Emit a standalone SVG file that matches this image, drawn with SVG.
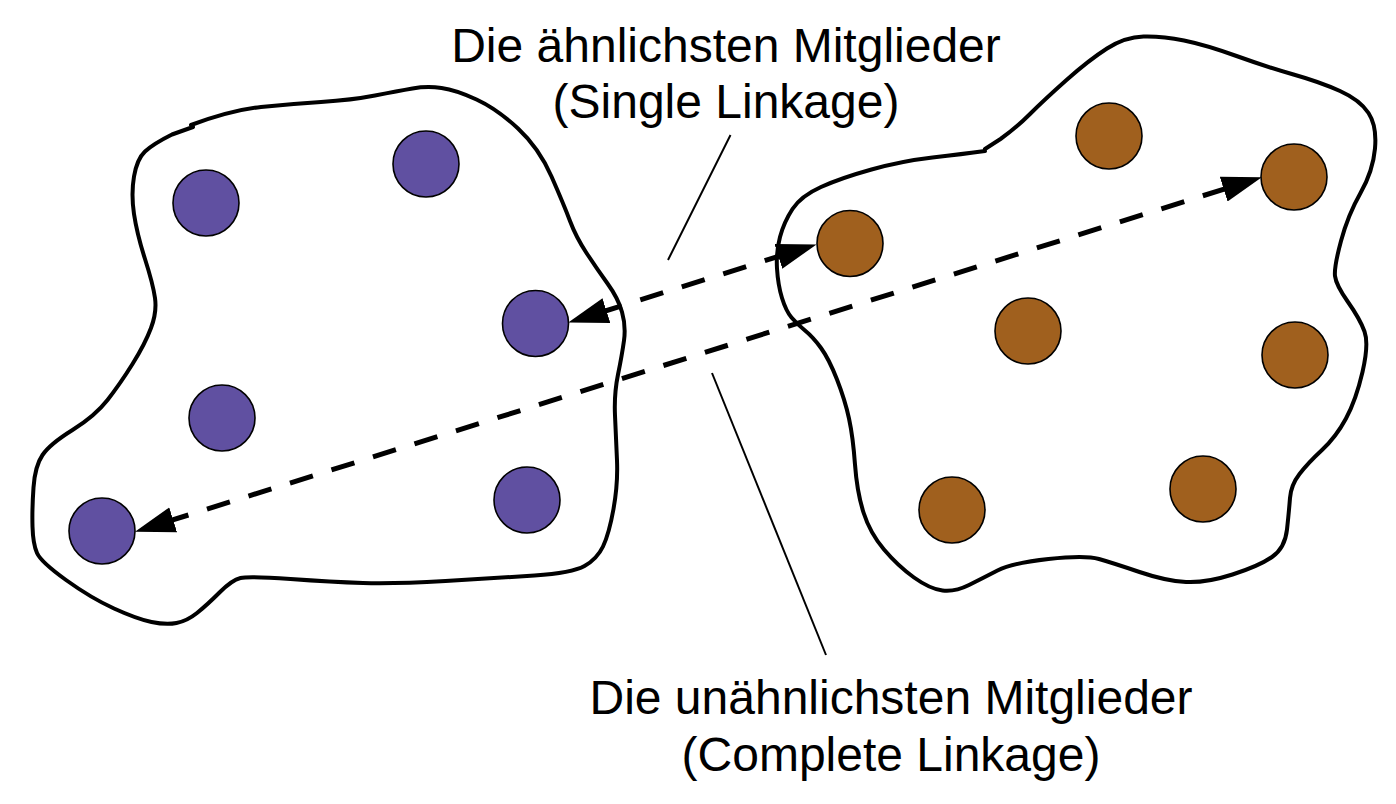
<svg xmlns="http://www.w3.org/2000/svg" width="1396" height="804" viewBox="0 0 1396 804">
<style>
.blob{fill:none;stroke:#000;stroke-width:4;stroke-linejoin:round;stroke-linecap:round}
.pp{fill:#6050a1;stroke:#000;stroke-width:1.6}
.bp{fill:#a0601e;stroke:#000;stroke-width:1.6}
.dash{fill:none;stroke:#000;stroke-width:5;stroke-dasharray:24 19.5}
.lead{fill:none;stroke:#000;stroke-width:2}
.lbl{font-family:"Liberation Sans",Arial,Helvetica,sans-serif;font-size:48px;fill:#000;text-anchor:middle}
</style>
<defs>
<marker id="ah" markerUnits="userSpaceOnUse" markerWidth="44" markerHeight="30" viewBox="0 -15 44 30" refX="8" refY="0" orient="auto-start-reverse">
<path d="M0,-13 L40,0 L0,13 Z" fill="#000"/>
</marker>
</defs>
<rect width="1396" height="804" fill="#fff"/>
<g id="cluster-left">
<path class="blob" d="M191,125 Q232,110 261,107 Q290,104 321,102 Q352,100 375,95.5 Q398,91 412.5,88.5 Q427,86 441.5,88 Q456,90 476.5,99.5 Q497,109 518,128.5 Q539,148 551.5,176.5 Q564,205 570,221 Q576,237 586.5,253 Q597,269 607.5,283.5 Q618,298 622,312 Q626,326 624,340.5 Q622,355 618,374.5 Q614,394 615,415.5 Q616,437 617,460.5 Q618,484 613.5,509 Q609,534 603,546.5 Q597,559 584.5,566 Q572,573 534.5,575.5 Q497,578 445.5,581 Q394,584 363,583 Q332,582 290.5,579 Q249,576 240.5,578 Q232,580 219.5,592.5 Q207,605 197,613 Q187,621 176.5,623 Q166,625 151.5,622 Q137,619 114,608.5 Q91,598 66,580 Q41,562 37,553 Q33,544 32.5,526.5 Q32,509 33.5,487.5 Q35,466 42.5,455 Q50,444 72.5,430 Q95,416 107.5,400 Q120,384 132.5,364 Q145,344 151,328 Q157,312 155,298 Q153,284 145,259 Q137,234 134,214 Q131,194 134,176.5 Q137,159 145,151.5 Q153,144 172,134.5 L193,127"/>
</g>
<g id="cluster-right">
<path class="blob" d="M985,151 Q963,154 932.5,157.5 Q902,161 871.5,169.5 Q841,178 821,187 Q801,196 792.5,209 Q784,222 780,237 Q776,252 777,268.5 Q778,285 782,298 Q786,311 791.5,317.5 Q797,324 805,330.5 Q813,337 821,348 Q829,359 837,379.5 Q845,400 849,418.5 Q853,437 855,464.5 Q857,492 863.5,512.5 Q870,533 884,549.5 Q898,566 914,577.5 Q930,589 942.5,590.5 Q955,592 969,585 Q983,578 997.5,570.5 Q1012,563 1048.5,559 Q1085,555 1099,559 Q1113,563 1139.5,572 Q1166,581 1186,582 Q1206,583 1232.5,574.5 Q1259,566 1272,557 Q1285,548 1287,529.5 Q1289,511 1290,498 Q1291,485 1299.5,474 Q1308,463 1322,450 Q1336,437 1346,418.5 Q1356,400 1362.5,372 Q1369,344 1364.5,331.5 Q1360,319 1348,302 Q1336,285 1335,276 Q1334,267 1341,241 Q1348,215 1360.5,193 Q1373,171 1375,148.5 Q1377,126 1368.5,113 Q1360,100 1340,91 Q1320,82 1293.5,74.5 Q1267,67 1236.5,56 Q1206,45 1184,40.5 Q1162,36 1143.5,36.5 Q1125,37 1107,48.5 Q1089,60 1066.5,80 Q1044,100 1030,114 Q1016,128 1000.5,139 L985,149"/>
</g>
<g id="points-left">
<circle id="p1" class="pp" cx="206" cy="203" r="33"/>
<circle id="p2" class="pp" cx="426" cy="164" r="33"/>
<circle id="p3" class="pp" cx="535.5" cy="323.5" r="33"/>
<circle id="p4" class="pp" cx="222" cy="418" r="33"/>
<circle id="p5" class="pp" cx="527" cy="500" r="33"/>
<circle id="p6" class="pp" cx="102" cy="531" r="33"/>
</g>
<g id="points-right">
<circle id="q1" class="bp" cx="1109" cy="136" r="33"/>
<circle id="q2" class="bp" cx="1294" cy="177" r="33"/>
<circle id="q3" class="bp" cx="850" cy="243.5" r="33"/>
<circle id="q4" class="bp" cx="1028" cy="331" r="33"/>
<circle id="q5" class="bp" cx="1295" cy="355" r="33"/>
<circle id="q6" class="bp" cx="952" cy="510" r="33"/>
<circle id="q7" class="bp" cx="1203" cy="489" r="33"/>
</g>
<g id="connectors">
<line class="dash" x1="598.8" y1="313" x2="786" y2="254" marker-start="url(#ah)" marker-end="url(#ah)"/>
<line class="dash" x1="165.5" y1="522.2" x2="1231.3" y2="186.8" marker-start="url(#ah)" marker-end="url(#ah)"/>
<line class="lead" x1="730.5" y1="135" x2="668" y2="260"/>
<line class="lead" x1="712" y1="373" x2="826" y2="655"/>
</g>
<g id="labels">
<text class="lbl" x="726" y="62">Die ähnlichsten Mitglieder</text>
<text class="lbl" x="726" y="118">(Single Linkage)</text>
<text class="lbl" x="891" y="714">Die unähnlichsten Mitglieder</text>
<text class="lbl" x="891" y="771">(Complete Linkage)</text>
</g>
</svg>
